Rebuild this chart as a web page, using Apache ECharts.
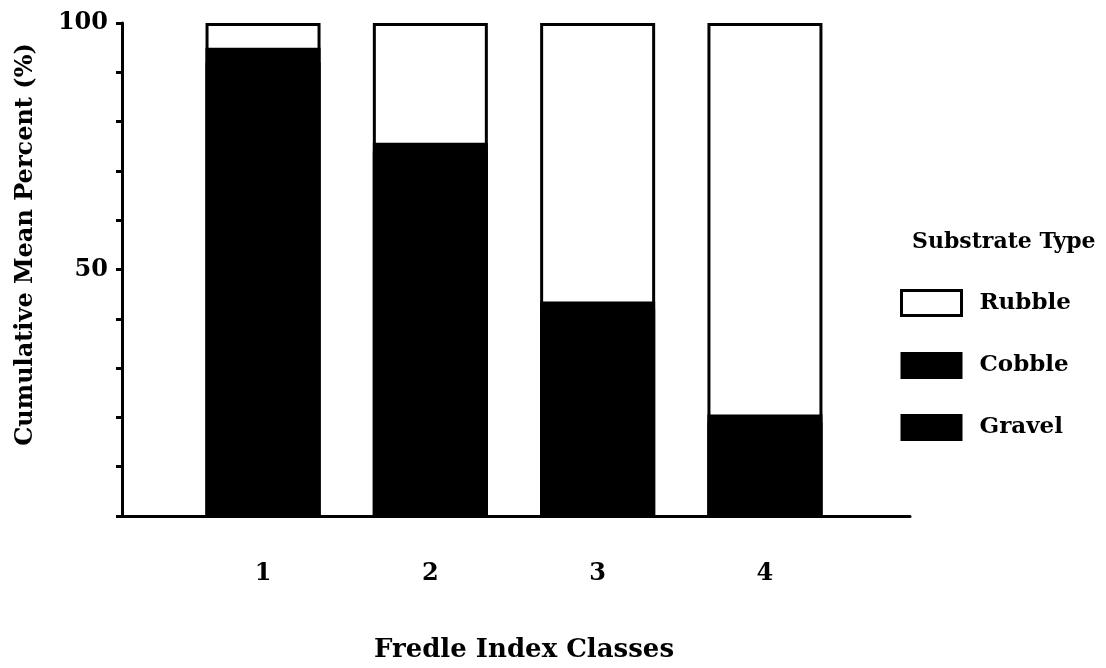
<!DOCTYPE html>
<html>
<head>
<meta charset="utf-8">
<script src="https://cdn.jsdelivr.net/npm/echarts@6/dist/echarts.min.js"></script>
<style>html,body{margin:0;padding:0;background:#fff}#c{width:1106px;height:668px}</style>
</head>
<body>
<div id="c"></div>
<script>
const classes = [1, 2, 3, 4];
const gravel = [92, 74, 42, 19];
const cobble = [3, 1.7, 1.5, 1.6];
const rubble = [5, 24.3, 56.5, 79.4];
const yLabels = [50, 100];

const FONT = 'DejaVu Serif';
// cumulative tops, drawn overlapping (largest first)
const cumCobble = gravel.map((g, i) => g + cobble[i]);
const cumRubble = cumCobble.map((c, i) => c + rubble[i]);
const pair = arr => arr.map((v, i) => [classes[i], v]);
const chart = echarts.init(document.getElementById('c'));
const barBase = { type: 'bar', barWidth: 115, barGap: '-100%' };
chart.setOption({
  animation: false,
  backgroundColor: '#fff',
  title: {
    text: 'Substrate Type', left: 907, top: 226,
    textStyle: { fontFamily: FONT, fontSize: 22, fontWeight: 'bold', color: '#000' }
  },
  legend: {
    orient: 'vertical', left: 895, top: 284,
    itemWidth: 60, itemHeight: 25, itemGap: 35, icon: 'rect',
    data: [
      { name: 'Rubble', itemStyle: { color: '#fff', borderColor: '#000', borderWidth: 3 } },
      { name: 'Cobble', itemStyle: { color: '#000', borderColor: '#000', borderWidth: 2 } },
      { name: 'Gravel', itemStyle: { color: '#000', borderColor: '#000', borderWidth: 2 } }
    ],
    textStyle: { fontFamily: FONT, fontSize: 23, fontWeight: 'bold', color: '#000', padding: [0, 0, 0, 13] }
  },
  grid: { left: 122, right: 196, top: 23, bottom: 151 },
  xAxis: {
    type: 'value', min: 0.157, max: 4.867,
    splitLine: { show: false },
    axisLine: { show: true, lineStyle: { color: '#000', width: 3 } },
    axisTick: { show: false },
    axisLabel: {
      customValues: classes, margin: 46,
      fontFamily: FONT, fontSize: 24, fontWeight: 'bold', color: '#000'
    },
    name: 'Fredle Index Classes', nameLocation: 'middle', nameGap: 121,
    nameTextStyle: { fontFamily: FONT, fontSize: 26, fontWeight: 'bold', color: '#000', padding: [0, 0, 0, 16] }
  },
  yAxis: {
    type: 'value', min: 0, max: 100, interval: 10,
    splitLine: { show: false },
    axisLine: { show: true, lineStyle: { color: '#000', width: 3 } },
    axisTick: { show: true, inside: false, length: 6, lineStyle: { color: '#000', width: 3 } },
    axisLabel: {
      customValues: yLabels, margin: 14,
      fontFamily: FONT, fontSize: 24, fontWeight: 'bold', color: '#000'
    },
    name: 'Cumulative Mean Percent (%)', nameLocation: 'middle', nameGap: 84, nameRotate: 90,
    nameTextStyle: { fontFamily: FONT, fontSize: 24, fontWeight: 'bold', color: '#000', padding: [0, 0, 0, 50] }
  },
  series: [
    Object.assign({}, barBase, { name: 'Rubble', data: pair(cumRubble), z: 2,
      itemStyle: { color: '#fff', borderColor: '#000', borderWidth: 3 } }),
    Object.assign({}, barBase, { name: 'Cobble', data: pair(cumCobble), z: 3,
      itemStyle: { color: '#000', borderColor: '#000', borderWidth: 3 } }),
    Object.assign({}, barBase, { name: 'Gravel', data: pair(gravel), z: 4,
      itemStyle: { color: '#000', borderColor: '#000', borderWidth: 3 } })
  ]
});
</script>
</body>
</html>
